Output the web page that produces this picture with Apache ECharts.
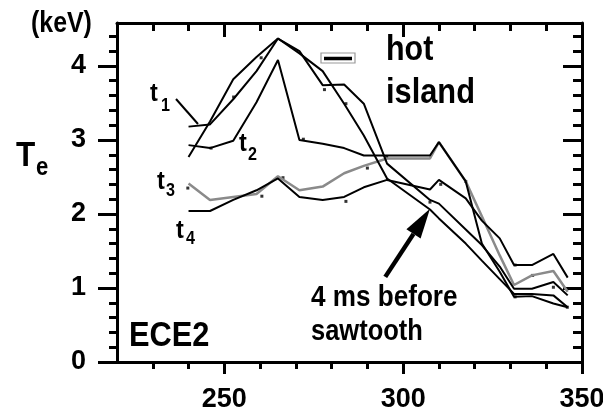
<!DOCTYPE html>
<html>
<head>
<meta charset="utf-8">
<script src="https://cdn.jsdelivr.net/npm/echarts@6/dist/echarts.min.js"></script>
<style>
  html, body { margin: 0; padding: 0; background: #fff; }
  #main { width: 603px; height: 408px; }
</style>
</head>
<body>
<div id="main"></div>
<script>
// ECE channel positions (major radius) and electron temperature profiles (keV)
const radius = [240, 246, 252.5, 259, 265, 271, 277.5, 283.5, 289, 295.5, 307.5, 310, 317.5, 322, 327, 331, 336, 342, 346];
const teT1  = [3.18, 3.21, 3.55, 3.93, 4.37, 4.20, 3.74, 3.75, 3.49, 2.68, 2.19, 2.14, 1.79, 1.58, 1.29, 0.99, 0.99, 1.08, 0.90];
const teT2  = [2.93, 2.89, 2.99, 3.51, 4.08, 3.00, 2.95, 2.89, 2.79, 2.79, 2.79, 2.97, 2.44, 1.60, 1.22, 0.88, 0.89, 0.79, 0.74];
const teT3  = [2.41, 2.19, 2.23, 2.27, 2.51, 2.32, 2.37, 2.55, 2.65, 2.75, 2.75, 2.97, 2.44, 1.97, 1.44, 1.04, 1.17, 1.23, 0.95];
const teT4  = [2.04, 2.04, 2.19, 2.32, 2.48, 2.23, 2.19, 2.23, 2.36, 2.46, 2.33, 2.46, 2.21, 1.91, 1.67, 1.31, 1.31, 1.46, 1.14];
const tePre = [2.77, 3.25, 3.82, 4.12, 4.37, 4.17, 3.93, 3.49, 3.06, 2.48, 2.06, 1.94, 1.60, 1.37, 1.12, 0.92, 0.92, 0.90, 0.74];

// sampled channel points
const pointR  = [239.8, 246.3, 252.6, 260.3, 260.5, 266.4, 272.1, 278, 284, 284, 290, 295.4, 307.5, 310.5, 317.5, 331.3, 336.2, 342, 331.3, 345.9];
const pointTe = [2.35, 2.89, 3.58, 4.11, 2.24, 2.49, 3.01, 3.68, 3.49, 2.17, 2.62, 2.77, 2.16, 2.40, 2.44, 1.31, 1.17, 1.01, 0.88, 0.74];

// ticks and labels
const xLabels = [250, 300, 350];
const xMinor  = [230, 240, 260, 270, 280, 290, 310, 320, 330, 340];
const xTopMajor = [250, 300];
const yLabels = [0, 1, 2, 3, 4];
const yMinor  = [0.2, 0.4, 0.6, 0.8, 1.2, 1.4, 1.6, 1.8, 2.2, 2.4, 2.6, 2.8, 3.2, 3.4, 3.6, 3.8, 4.2, 4.4];

// arrow annotation (data coordinates): tail -> tip
const arrowTail = [295.0, 1.15];
const arrowTip  = [307.5, 2.07];

const FONT = "'Liberation Sans', Arial, Helvetica, sans-serif";
const BLACK = '#000';
const GRAY = '#8a8a8a';

function pair(xs, ys) { return xs.map((x, i) => [x, ys[i]]); }

function xAxisDef(position, ticks, len, inside, labels, withLine) {
  return {
    type: 'value', position, min: 220, max: 350,
    axisLine: withLine ? { show: true, onZero: false, lineStyle: { color: BLACK, width: 3 } } : { show: false, onZero: false },
    axisTick: { show: true, inside, length: len, customValues: ticks, lineStyle: { color: BLACK, width: 3 } },
    axisLabel: labels ? { show: true, customValues: labels, margin: 24, color: BLACK,
      fontFamily: FONT, fontWeight: 'bold', fontSize: 27 } : { show: false },
    splitLine: { show: false }
  };
}
function yAxisDef(position, ticks, len, inside, labels, withLine) {
  return {
    type: 'value', position, min: 0, max: 4.58,
    axisLine: withLine ? { show: true, onZero: false, lineStyle: { color: BLACK, width: 3 } } : { show: false, onZero: false },
    axisTick: { show: true, inside, length: len, customValues: ticks, lineStyle: { color: BLACK, width: 3 } },
    axisLabel: labels ? { show: true, customValues: labels, margin: 31, color: BLACK,
      fontFamily: FONT, fontWeight: 'bold', fontSize: 27 } : { show: false },
    splitLine: { show: false }
  };
}

function lineSeries(name, ys, color, width) {
  return {
    name, type: 'line', xAxisIndex: 0, yAxisIndex: 0,
    data: pair(radius, ys), showSymbol: false, symbol: 'none',
    lineStyle: { color, width }, silent: true
  };
}

// bold label, horizontally condensed by sx around its left anchor
function txt(text, x, y, size, sx) {
  return { type: 'text', x, y, scaleX: sx || 1, silent: true,
    style: { text, fill: BLACK, font: 'bold ' + size + 'px ' + FONT,
      align: 'left', verticalAlign: 'middle' } };
}

const chart = echarts.init(document.getElementById('main'), null, { renderer: 'canvas' });
chart.setOption({
  animation: false,
  backgroundColor: '#fff',
  grid: { left: 117, right: 21, top: 23, bottom: 46, containLabel: false, outerBoundsMode: 'none' },
  xAxis: [
    xAxisDef('bottom', xMinor, 7, false, xLabels, true),
    xAxisDef('bottom', xLabels, 12, false, null, false),
    xAxisDef('top', xMinor, 8, true, null, true),
    xAxisDef('top', xTopMajor, 14, true, null, false)
  ],
  yAxis: [
    yAxisDef('left', yMinor, 8, false, yLabels, true),
    yAxisDef('left', yLabels, 19, false, null, false),
    yAxisDef('right', yMinor, 9, true, null, true),
    yAxisDef('right', yLabels, 19, true, null, false)
  ],
  series: [
    lineSeries('t3', teT3, GRAY, 2.5),
    lineSeries('t1', teT1, BLACK, 2),
    lineSeries('t2', teT2, BLACK, 2),
    lineSeries('t4', teT4, BLACK, 2),
    lineSeries('4 ms before sawtooth', tePre, BLACK, 2),
    { name: 'channels', type: 'scatter', data: pair(pointR, pointTe), symbol: 'rect',
      symbolSize: 3, itemStyle: { color: BLACK }, silent: true }
  ]
});

// annotations
const tip = chart.convertToPixel({ xAxisIndex: 0, yAxisIndex: 0 }, arrowTip);
const tail = chart.convertToPixel({ xAxisIndex: 0, yAxisIndex: 0 }, arrowTail);
const dx = tip[0] - tail[0], dy = tip[1] - tail[1];
const L = Math.sqrt(dx * dx + dy * dy), ux = dx / L, uy = dy / L;
const headLen = 30, headHalf = 8.5;
const bx = tip[0] - headLen * ux, by = tip[1] - headLen * uy;

chart.setOption({
  graphic: [
    txt('(keV)', 31, 24, 30, 0.83),
    txt('T', 16, 156, 35, 0.9),
    txt('e', 36, 168, 26, 0.85),
    txt('t', 150, 94, 26, 0.9), txt('1', 161, 106, 19, 0.85),
    txt('t', 239, 144, 26, 0.9), txt('2', 248, 155, 19, 0.85),
    txt('t', 157, 182, 26, 0.9), txt('3', 166, 191, 19, 0.85),
    txt('t', 176, 231, 26, 0.9), txt('4', 186, 239, 19, 0.85),
    { type: 'line', silent: true, shape: { x1: 176, y1: 99, x2: 198, y2: 124 },
      style: { stroke: BLACK, lineWidth: 2 } },
    txt('hot', 386, 50.5, 35, 0.87),
    txt('island', 386, 93.5, 35, 0.88),
    { type: 'rect', silent: true, shape: { x: 321, y: 53, width: 34, height: 10 },
      style: { fill: 'none', stroke: '#999', lineWidth: 1.2 } },
    { type: 'line', silent: true, shape: { x1: 324, y1: 58.5, x2: 352, y2: 58.5 },
      style: { stroke: BLACK, lineWidth: 3.5 } },
    txt('ECE2', 129, 336.5, 35, 0.88),
    txt('4 ms before', 311, 297.5, 30, 0.87),
    txt('sawtooth', 311, 331.5, 30, 0.85),
    { type: 'line', silent: true, shape: { x1: tail[0], y1: tail[1], x2: bx, y2: by },
      style: { stroke: BLACK, lineWidth: 4.5 } },
    { type: 'polygon', silent: true,
      shape: { points: [[tip[0], tip[1]], [bx + headHalf * uy, by - headHalf * ux], [bx - headHalf * uy, by + headHalf * ux]] },
      style: { fill: BLACK } }
  ]
});
</script>
</body>
</html>
